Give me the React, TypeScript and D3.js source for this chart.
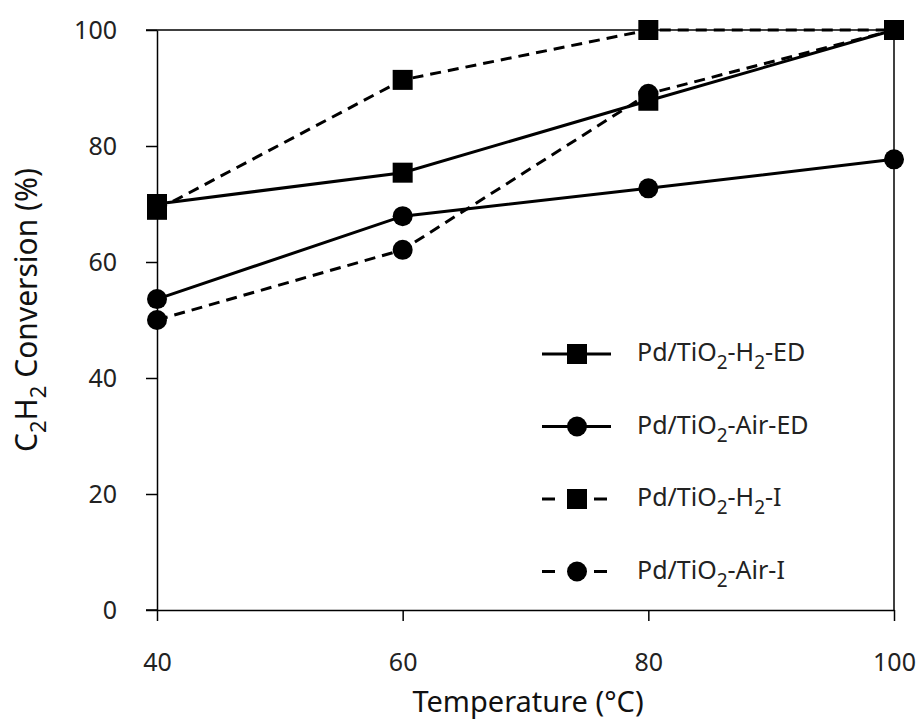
import React, { useEffect, useRef } from 'react';
import * as d3 from 'd3';

const temperatures = [40, 60, 80, 100];
const h2Ed = [70, 75.4, 87.8, 100];
const airEd = [53.6, 67.9, 72.7, 77.7];
const h2I = [69, 91.4, 100, 100];
const airI = [50, 62.1, 89, 100];
const xTicks = [40, 60, 80, 100];
const yTicks = [0, 20, 40, 60, 80, 100];

const seriesList = [
    { name: 'H2-ED', values: h2Ed, marker: 'square', dashed: false },
    { name: 'Air-ED', values: airEd, marker: 'circle', dashed: false },
    { name: 'H2-I', values: h2I, marker: 'square', dashed: true },
    { name: 'Air-I', values: airI, marker: 'circle', dashed: true },
];

const FONT = '"Noto Sans", "DejaVu Sans", sans-serif';

export default function App() {
    const svgRef = useRef<SVGSVGElement | null>(null);

    useEffect(() => {
        if (!svgRef.current) return;
        const svg = d3.select(svgRef.current);
        svg.selectAll('*').remove();

        const x = d3.scaleLinear().domain([40, 100]).range([157, 894]);
        const y = d3.scaleLinear().domain([0, 100]).range([610, 30]);

        // frame top and right
        svg.append('line').attr('x1', 146).attr('x2', 894).attr('y1', y(100)).attr('y2', y(100))
            .attr('stroke', '#000').attr('stroke-width', 1.5);
        svg.append('line').attr('x1', 894).attr('x2', 894).attr('y1', y(100)).attr('y2', 610)
            .attr('stroke', '#000').attr('stroke-width', 1.5);

        const yAxis = svg.append('g').attr('transform', 'translate(157,0)')
            .call(d3.axisLeft(y).tickValues(yTicks).tickSize(11).tickPadding(29).tickSizeOuter(0));
        const xAxis = svg.append('g').attr('transform', 'translate(0,610)')
            .call(d3.axisBottom(x).tickValues(xTicks).tickSize(11).tickPadding(32).tickSizeOuter(0));
        [xAxis, yAxis].forEach(a => {
            a.selectAll('path, line').attr('stroke', '#000').attr('stroke-width', 1.5);
            a.selectAll('text').attr('font-family', FONT).attr('font-size', 25).attr('fill', '#222');
        });
        // extend bottom axis left to the 0 tick
        svg.append('line').attr('x1', 146).attr('x2', 157).attr('y1', 610).attr('y2', 610)
            .attr('stroke', '#000').attr('stroke-width', 1.5);

        const line = d3.line<number>()
            .x((_, i) => x(temperatures[i]))
            .y(d => y(d));

        const drawMarker = (g: any, kind: string, cx: number, cy: number) => {
            if (kind === 'square') {
                g.append('rect').attr('x', cx - 10).attr('y', cy - 10).attr('width', 20).attr('height', 20)
                    .attr('fill', '#000');
            } else {
                g.append('circle').attr('cx', cx).attr('cy', cy).attr('r', 10).attr('fill', '#000');
            }
        };

        seriesList.forEach(s => {
            svg.append('path').datum(s.values).attr('d', line)
                .attr('fill', 'none').attr('stroke', '#000').attr('stroke-width', 3)
                .attr('stroke-dasharray', s.dashed ? '11,7' : null);
        });
        seriesList.forEach(s => {
            const g = svg.append('g');
            s.values.forEach((v, i) => drawMarker(g, s.marker, x(temperatures[i]), y(v)));
        });

        // legend
        const labels = [
            ['Pd/TiO', '2', '-H', '2', '-ED'],
            ['Pd/TiO', '2', '-Air-ED'],
            ['Pd/TiO', '2', '-H', '2', '-I'],
            ['Pd/TiO', '2', '-Air-I'],
        ];
        seriesList.forEach((s, i) => {
            const ly = 354 + i * 72.5;
            const g = svg.append('g');
            if (s.dashed) {
                g.append('line').attr('x1', 542).attr('x2', 555).attr('y1', ly).attr('y2', ly)
                    .attr('stroke', '#000').attr('stroke-width', 3);
                g.append('line').attr('x1', 594).attr('x2', 607).attr('y1', ly).attr('y2', ly)
                    .attr('stroke', '#000').attr('stroke-width', 3);
            } else {
                g.append('line').attr('x1', 542).attr('x2', 611).attr('y1', ly).attr('y2', ly)
                    .attr('stroke', '#000').attr('stroke-width', 3);
            }
            drawMarker(g, s.marker, 577, ly);
            const t = g.append('text').attr('x', 637).attr('y', ly + 7)
                .attr('font-family', FONT).attr('font-size', 25).attr('fill', '#222');
            labels[i].forEach((part, j) => {
                const sub = part === '2';
                t.append('tspan').text(part)
                    .attr('font-size', sub ? 19 : 25)
                    .attr('dy', sub ? 8 : (j === 0 ? 0 : -8));
            });
        });

        // axis titles
        svg.append('text').attr('x', 528).attr('y', 712).attr('text-anchor', 'middle')
            .attr('font-family', FONT).attr('font-size', 29).attr('fill', '#111')
            .text('Temperature (°C)');
        const yt = svg.append('text').attr('transform', 'translate(37,310) rotate(-90)')
            .attr('text-anchor', 'middle').attr('font-family', FONT).attr('font-size', 30).attr('fill', '#111');
        yt.append('tspan').text('C');
        yt.append('tspan').text('2').attr('font-size', 22).attr('dy', 9);
        yt.append('tspan').text('H').attr('dy', -9);
        yt.append('tspan').text('2').attr('font-size', 22).attr('dy', 9);
        yt.append('tspan').text(' Conversion (%)').attr('dy', -9);
    }, []);

    return <svg ref={svgRef} width={922} height={719} style={{ position: 'absolute', left: 0, top: 0 }} />;
}
